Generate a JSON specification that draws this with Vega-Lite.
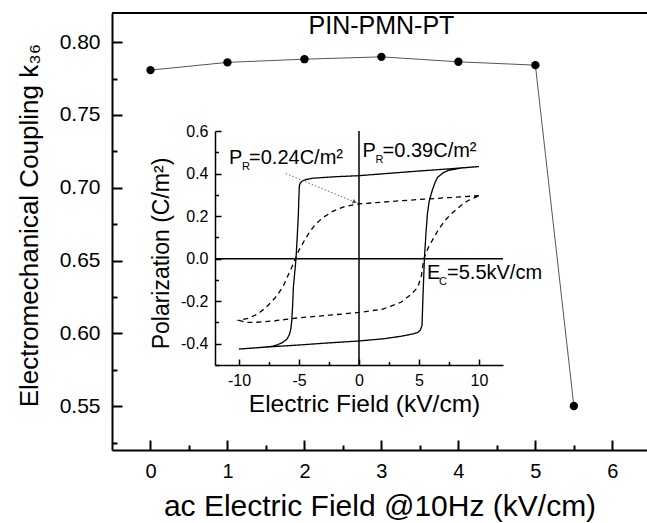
{
  "$schema": "https://vega.github.io/schema/vega-lite/v6.json",
  "width": 535,
  "height": 437,
  "autosize": "none",
  "padding": {"left": 112, "top": 13, "right": 0, "bottom": 73},
  "background": "white",
  "config": {
    "view": {"stroke": null},
    "font": "Liberation Sans",
    "axis": {"grid": false, "domainColor": "black", "tickColor": "black", "labelColor": "black", "titleColor": "black", "titleFontWeight": "normal", "labelFlush": false, "labelOverlap": false}
  },
  "datasets": {
    "coupling": [
      {"field_kVcm": 0, "k36": 0.7808},
      {"field_kVcm": 1, "k36": 0.7861},
      {"field_kVcm": 2, "k36": 0.7883},
      {"field_kVcm": 3, "k36": 0.7899},
      {"field_kVcm": 4, "k36": 0.7865},
      {"field_kVcm": 5, "k36": 0.7842},
      {"field_kVcm": 5.5, "k36": 0.5502}
    ],
    "loops": [
      {"loop": "solid", "i": 1, "E": 10, "P": 0.433},
      {"loop": "solid", "i": 2, "E": 7.5, "P": 0.422},
      {"loop": "solid", "i": 3, "E": 5, "P": 0.412},
      {"loop": "solid", "i": 4, "E": 2.5, "P": 0.401},
      {"loop": "solid", "i": 5, "E": 0, "P": 0.39},
      {"loop": "solid", "i": 6, "E": -2, "P": 0.385},
      {"loop": "solid", "i": 7, "E": -3.86, "P": 0.378},
      {"loop": "solid", "i": 8, "E": -4.4, "P": 0.372},
      {"loop": "solid", "i": 9, "E": -4.7, "P": 0.366},
      {"loop": "solid", "i": 10, "E": -4.88, "P": 0.357},
      {"loop": "solid", "i": 11, "E": -4.97, "P": 0.343},
      {"loop": "solid", "i": 12, "E": -5.0, "P": 0.3},
      {"loop": "solid", "i": 13, "E": -5.06, "P": 0.2},
      {"loop": "solid", "i": 14, "E": -5.15, "P": 0.1},
      {"loop": "solid", "i": 15, "E": -5.25, "P": 0},
      {"loop": "solid", "i": 16, "E": -5.38, "P": -0.08},
      {"loop": "solid", "i": 17, "E": -5.47, "P": -0.135},
      {"loop": "solid", "i": 18, "E": -5.53, "P": -0.22},
      {"loop": "solid", "i": 19, "E": -5.6, "P": -0.29},
      {"loop": "solid", "i": 20, "E": -5.68, "P": -0.33},
      {"loop": "solid", "i": 21, "E": -5.8, "P": -0.357},
      {"loop": "solid", "i": 22, "E": -6.0, "P": -0.378},
      {"loop": "solid", "i": 23, "E": -6.36, "P": -0.394},
      {"loop": "solid", "i": 24, "E": -6.8, "P": -0.405},
      {"loop": "solid", "i": 25, "E": -7.2, "P": -0.412},
      {"loop": "solid", "i": 26, "E": -8.5, "P": -0.419},
      {"loop": "solid", "i": 27, "E": -10, "P": -0.425},
      {"loop": "solid", "i": 28, "E": -7.5, "P": -0.415},
      {"loop": "solid", "i": 29, "E": -5, "P": -0.406},
      {"loop": "solid", "i": 30, "E": -2.5, "P": -0.396},
      {"loop": "solid", "i": 31, "E": 0, "P": -0.387},
      {"loop": "solid", "i": 32, "E": 2, "P": -0.377},
      {"loop": "solid", "i": 33, "E": 3.5, "P": -0.365},
      {"loop": "solid", "i": 34, "E": 4.5, "P": -0.354},
      {"loop": "solid", "i": 35, "E": 4.9, "P": -0.347},
      {"loop": "solid", "i": 36, "E": 5.1, "P": -0.337},
      {"loop": "solid", "i": 37, "E": 5.25, "P": -0.315},
      {"loop": "solid", "i": 38, "E": 5.33, "P": -0.18},
      {"loop": "solid", "i": 39, "E": 5.45, "P": 0},
      {"loop": "solid", "i": 40, "E": 5.58, "P": 0.12},
      {"loop": "solid", "i": 41, "E": 5.7, "P": 0.21},
      {"loop": "solid", "i": 42, "E": 5.85, "P": 0.27},
      {"loop": "solid", "i": 43, "E": 6.1, "P": 0.32},
      {"loop": "solid", "i": 44, "E": 6.35, "P": 0.36},
      {"loop": "solid", "i": 45, "E": 6.56, "P": 0.383},
      {"loop": "solid", "i": 46, "E": 7.0, "P": 0.403},
      {"loop": "solid", "i": 47, "E": 7.4, "P": 0.414},
      {"loop": "solid", "i": 48, "E": 8.5, "P": 0.426},
      {"loop": "solid", "i": 49, "E": 10, "P": 0.433},
      {"loop": "dashed", "i": 1, "E": 10, "P": 0.296},
      {"loop": "dashed", "i": 2, "E": 7.5, "P": 0.287},
      {"loop": "dashed", "i": 3, "E": 5, "P": 0.278},
      {"loop": "dashed", "i": 4, "E": 2.5, "P": 0.268},
      {"loop": "dashed", "i": 5, "E": 0, "P": 0.257},
      {"loop": "dashed", "i": 6, "E": -1.2, "P": 0.245},
      {"loop": "dashed", "i": 7, "E": -2.2, "P": 0.222},
      {"loop": "dashed", "i": 8, "E": -3.0, "P": 0.193},
      {"loop": "dashed", "i": 9, "E": -3.6, "P": 0.163},
      {"loop": "dashed", "i": 10, "E": -4.1, "P": 0.127},
      {"loop": "dashed", "i": 11, "E": -4.55, "P": 0.085},
      {"loop": "dashed", "i": 12, "E": -5.0, "P": 0.04},
      {"loop": "dashed", "i": 13, "E": -5.3, "P": 0.0},
      {"loop": "dashed", "i": 14, "E": -5.6, "P": -0.04},
      {"loop": "dashed", "i": 15, "E": -6.0, "P": -0.09},
      {"loop": "dashed", "i": 16, "E": -6.36, "P": -0.135},
      {"loop": "dashed", "i": 17, "E": -7.0, "P": -0.185},
      {"loop": "dashed", "i": 18, "E": -7.75, "P": -0.23},
      {"loop": "dashed", "i": 19, "E": -8.5, "P": -0.262},
      {"loop": "dashed", "i": 20, "E": -9.2, "P": -0.28},
      {"loop": "dashed", "i": 21, "E": -10, "P": -0.29},
      {"loop": "dashed", "i": 22, "E": -9.4, "P": -0.3},
      {"loop": "dashed", "i": 23, "E": -8.5, "P": -0.299},
      {"loop": "dashed", "i": 24, "E": -7, "P": -0.292},
      {"loop": "dashed", "i": 25, "E": -5, "P": -0.278},
      {"loop": "dashed", "i": 26, "E": -2.5, "P": -0.266},
      {"loop": "dashed", "i": 27, "E": 0, "P": -0.253},
      {"loop": "dashed", "i": 28, "E": 2, "P": -0.237},
      {"loop": "dashed", "i": 29, "E": 3.5, "P": -0.205},
      {"loop": "dashed", "i": 30, "E": 4.3, "P": -0.17},
      {"loop": "dashed", "i": 31, "E": 4.9, "P": -0.135},
      {"loop": "dashed", "i": 32, "E": 5.2, "P": -0.08},
      {"loop": "dashed", "i": 33, "E": 5.4, "P": 0.0},
      {"loop": "dashed", "i": 34, "E": 5.8, "P": 0.055},
      {"loop": "dashed", "i": 35, "E": 6.55, "P": 0.13},
      {"loop": "dashed", "i": 36, "E": 7.1, "P": 0.175},
      {"loop": "dashed", "i": 37, "E": 7.67, "P": 0.21},
      {"loop": "dashed", "i": 38, "E": 8.4, "P": 0.245},
      {"loop": "dashed", "i": 39, "E": 9.06, "P": 0.272},
      {"loop": "dashed", "i": 40, "E": 10, "P": 0.296}
    ]
  },
  "layer": [
    {
      "data": {"name": "coupling"},
      "layer": [
        {
          "mark": {"type": "line", "color": "#555555", "strokeWidth": 1},
          "encoding": {
            "x": {
              "field": "field_kVcm", "type": "quantitative",
              "scale": {"domain": [-0.5, 6.45], "nice": false, "zero": false},
              "axis": {
                "orient": "bottom",
                "title": "ac Electric Field @10Hz (kV/cm)",
                "values": [0, 1, 2, 3, 4, 5, 6],
                "format": "d",
                "tickSize": -10,
                "tickWidth": 2, "domainWidth": 2,
                "labelFontSize": 20, "labelPadding": 21,
                "titleFontSize": 30, "titleY": 65, "titleBaseline": "alphabetic"
              }
            },
            "y": {
              "field": "k36", "type": "quantitative",
              "scale": {"domain": [0.52, 0.82], "nice": false, "zero": false},
              "axis": {
                "orient": "left",
                "title": "Electromechanical Coupling k₃₆",
                "values": [0.55, 0.6, 0.65, 0.7, 0.75, 0.8],
                "format": ".2f",
                "tickSize": -10,
                "tickWidth": 2, "domainWidth": 2,
                "labelFontSize": 21, "labelPadding": 22,
                "titleFontSize": 26, "titleX": -75, "titleY": 212, "titleBaseline": "alphabetic"
              }
            }
          }
        },
        {
          "mark": {"type": "point", "filled": true, "color": "black", "size": 70, "opacity": 1},
          "encoding": {
            "x": {"field": "field_kVcm", "type": "quantitative"},
            "y": {"field": "k36", "type": "quantitative"}
          }
        },
        {
          "data": {"values": [{}]},
          "mark": {"type": "rule", "color": "black", "strokeWidth": 2},
          "encoding": {"y": {"datum": 0.82}}
        },
        {
          "data": {"values": [{}]},
          "mark": {"type": "text", "fontSize": 25, "text": "PIN-PMN-PT", "color": "black", "baseline": "middle"},
          "encoding": {"x": {"datum": 3}, "y": {"datum": 0.811}}
        }
      ]
    },
    {
      "data": {"values": [{"mx": 0, "my": 0.6}]},
      "mark": {"type": "point", "opacity": 0},
      "encoding": {
        "x": {
          "field": "mx", "type": "quantitative",
          "scale": {"domain": [-0.5, 6.45], "nice": false, "zero": false},
          "axis": {"orient": "bottom", "title": null, "values": [0.5, 1.5, 2.5, 3.5, 4.5, 5.5], "labels": false, "domain": false, "tickSize": -5, "tickWidth": 2}
        },
        "y": {
          "field": "my", "type": "quantitative",
          "scale": {"domain": [0.52, 0.82], "nice": false, "zero": false},
          "axis": {"orient": "left", "title": null, "values": [0.525, 0.575, 0.625, 0.675, 0.725, 0.775], "labels": false, "domain": false, "tickSize": -5, "tickWidth": 2}
        }
      }
    },
    {
      "data": {"name": "loops"},
      "layer": [
        {
          "mark": {"type": "line", "color": "black", "strokeWidth": 1.3},
          "encoding": {
            "x": {
              "field": "E", "type": "quantitative",
              "scale": {"domain": [-12, 12], "range": [103, 391], "nice": false, "zero": false},
              "axis": {
                "orient": "bottom", "offset": -85,
                "title": "Electric Field (kV/cm)",
                "values": [-10, -5, 0, 5, 10],
                "labelExpr": "replace(datum.label, '−', '-')",
                "tickSize": -6,
                "tickWidth": 1.5, "domainWidth": 1.5,
                "labelFontSize": 16, "labelPadding": 13,
                "titleFontSize": 24.5, "titleX": 252, "titleY": 46, "titleBaseline": "alphabetic"
              }
            },
            "y": {
              "field": "P", "type": "quantitative",
              "scale": {"domain": [-0.5, 0.6], "range": [352, 118], "nice": false, "zero": false},
              "axis": {
                "orient": "left", "offset": -103,
                "title": "Polarization (C/m²)",
                "values": [-0.4, -0.2, 0, 0.2, 0.4, 0.6],
                "format": ".1f",
                "labelExpr": "replace(datum.label, '−', '-')",
                "tickSize": -6,
                "tickWidth": 1.5, "domainWidth": 1.5,
                "labelFontSize": 16, "labelPadding": 13,
                "titleFontSize": 23, "titleX": -47, "titleY": 240, "titleBaseline": "alphabetic"
              }
            },
            "strokeDash": {"field": "loop", "type": "nominal", "scale": {"domain": ["solid", "dashed"], "range": [[1, 0], [5, 4]]}, "legend": null},
            "order": {"field": "i", "type": "quantitative"}
          }
        },
        {
          "data": {"values": [{}]},
          "mark": {"type": "rule", "color": "black", "strokeWidth": 1.5},
          "encoding": {"x": {"datum": -12}, "x2": {"datum": 12}, "y": {"datum": 0}}
        },
        {
          "data": {"values": [{}]},
          "mark": {"type": "rule", "color": "black", "strokeWidth": 1.5},
          "encoding": {"x": {"datum": 0}, "y": {"datum": -0.5}, "y2": {"datum": 0.6}}
        },
        {
          "data": {"values": [{"E": -6.1, "P": 0.40}, {"E": -0.45, "P": 0.268}]},
          "mark": {"type": "line", "color": "#666666", "strokeWidth": 1, "strokeDash": [1.5, 2]},
          "encoding": {"x": {"field": "E", "type": "quantitative"}, "y": {"field": "P", "type": "quantitative"}}
        },
        {
          "data": {"values": [{}]},
          "mark": {"type": "point", "shape": "triangle-right", "filled": true, "color": "#555555", "size": 25, "angle": 22, "opacity": 1},
          "encoding": {"x": {"datum": -0.35}, "y": {"datum": 0.266}}
        },
        {
          "data": {"values": [{}]},
          "mark": {"type": "text", "fontSize": 20, "align": "left", "baseline": "alphabetic", "color": "black", "text": "P"},
          "encoding": {"x": {"datum": -10.83}, "y": {"datum": 0.447}}
        },
        {
          "data": {"values": [{}]},
          "mark": {"type": "text", "fontSize": 11, "align": "left", "baseline": "alphabetic", "color": "black", "text": "R", "dx": 13, "dy": 6},
          "encoding": {"x": {"datum": -10.83}, "y": {"datum": 0.447}}
        },
        {
          "data": {"values": [{}]},
          "mark": {"type": "text", "fontSize": 20, "align": "left", "baseline": "alphabetic", "color": "black", "text": "=0.24C/m²", "dx": 20},
          "encoding": {"x": {"datum": -10.83}, "y": {"datum": 0.447}}
        },
        {
          "data": {"values": [{}]},
          "mark": {"type": "text", "fontSize": 20, "align": "left", "baseline": "alphabetic", "color": "black", "text": "P"},
          "encoding": {"x": {"datum": 0.3}, "y": {"datum": 0.48}}
        },
        {
          "data": {"values": [{}]},
          "mark": {"type": "text", "fontSize": 11, "align": "left", "baseline": "alphabetic", "color": "black", "text": "R", "dx": 13, "dy": 6},
          "encoding": {"x": {"datum": 0.3}, "y": {"datum": 0.48}}
        },
        {
          "data": {"values": [{}]},
          "mark": {"type": "text", "fontSize": 20, "align": "left", "baseline": "alphabetic", "color": "black", "text": "=0.39C/m²", "dx": 20},
          "encoding": {"x": {"datum": 0.3}, "y": {"datum": 0.48}}
        },
        {
          "data": {"values": [{}]},
          "mark": {"type": "text", "fontSize": 20, "align": "left", "baseline": "alphabetic", "color": "black", "text": "E"},
          "encoding": {"x": {"datum": 5.67}, "y": {"datum": -0.094}}
        },
        {
          "data": {"values": [{}]},
          "mark": {"type": "text", "fontSize": 11, "align": "left", "baseline": "alphabetic", "color": "black", "text": "C", "dx": 12, "dy": 6},
          "encoding": {"x": {"datum": 5.67}, "y": {"datum": -0.094}}
        },
        {
          "data": {"values": [{}]},
          "mark": {"type": "text", "fontSize": 20, "align": "left", "baseline": "alphabetic", "color": "black", "text": "=5.5kV/cm", "dx": 20},
          "encoding": {"x": {"datum": 5.67}, "y": {"datum": -0.094}}
        }
      ]
    },
    {
      "data": {"values": [{"ix": 0, "iy": 0}]},
      "mark": {"type": "point", "opacity": 0},
      "encoding": {
        "x": {
          "field": "ix", "type": "quantitative",
          "scale": {"domain": [-12, 12], "range": [103, 391], "nice": false, "zero": false},
          "axis": {"orient": "bottom", "offset": -85, "title": null, "values": [-7.5, -2.5, 2.5, 7.5], "labels": false, "domain": false, "tickSize": -3.5, "tickWidth": 1.5}
        },
        "y": {
          "field": "iy", "type": "quantitative",
          "scale": {"domain": [-0.5, 0.6], "range": [352, 118], "nice": false, "zero": false},
          "axis": {"orient": "left", "offset": -103, "title": null, "values": [-0.5, -0.3, -0.1, 0.1, 0.3, 0.5], "labels": false, "domain": false, "tickSize": -3.5, "tickWidth": 1.5}
        }
      }
    }
  ],
  "resolve": {
    "scale": {"x": "independent", "y": "independent", "strokeDash": "independent"},
    "axis": {"x": "independent", "y": "independent"}
  }
}
